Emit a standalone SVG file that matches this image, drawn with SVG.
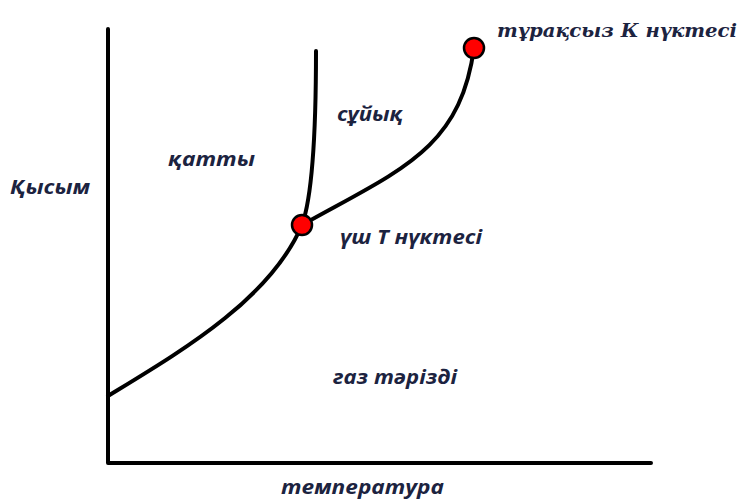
<svg xmlns="http://www.w3.org/2000/svg" width="741" height="500" viewBox="0 0 741 500">
<style>
.ln{fill:none;stroke:#000;stroke-width:4;stroke-linecap:round;stroke-linejoin:round}
.pt{fill:#ff0000;stroke:#000;stroke-width:2.5}
.lb{font-family:"Open Sans","Liberation Sans",sans-serif;font-style:italic;font-weight:bold;fill:#1c2340}
.sr{font-family:"DejaVu Serif","Liberation Serif",serif;font-style:italic;font-weight:bold;fill:#1c2340}
</style>
<rect width="741" height="500" fill="#fff"/>
<g id="axes">
<path class="ln" d="M108,29 L108,463 L651,463"/>
</g>
<g id="connectors">
<path class="ln" d="M108,396 C180,352 270,300 302,225"/>
<path class="ln" d="M302,225 C311,200 316,150 316,51"/>
<path class="ln" d="M302,225 C400,170 460,150 474,48"/>
</g>
<g id="triple">
<circle class="pt" cx="302" cy="225" r="10"/>
<text class="lb" x="340" y="244" font-size="19" textLength="142" lengthAdjust="spacingAndGlyphs">үш Т нүктесі</text>
</g>
<g id="critical">
<circle class="pt" cx="474" cy="48" r="10"/>
<text class="sr" x="497" y="37" font-size="19" textLength="240" lengthAdjust="spacingAndGlyphs">тұрақсыз К нүктесі</text>
</g>
<g id="labels">
<text class="lb" x="10" y="194" font-size="19" textLength="80" lengthAdjust="spacingAndGlyphs">Қысым</text>
<text class="lb" x="168" y="166" font-size="19" textLength="87" lengthAdjust="spacingAndGlyphs">қатты</text>
<text class="lb" x="337" y="121" font-size="19" textLength="66" lengthAdjust="spacingAndGlyphs">сұйық</text>
<text class="lb" x="333" y="384" font-size="19" textLength="124" lengthAdjust="spacingAndGlyphs">газ тәрізді</text>
<text class="lb" x="281" y="494" font-size="20" textLength="163" lengthAdjust="spacingAndGlyphs">температура</text>
</g>
</svg>
